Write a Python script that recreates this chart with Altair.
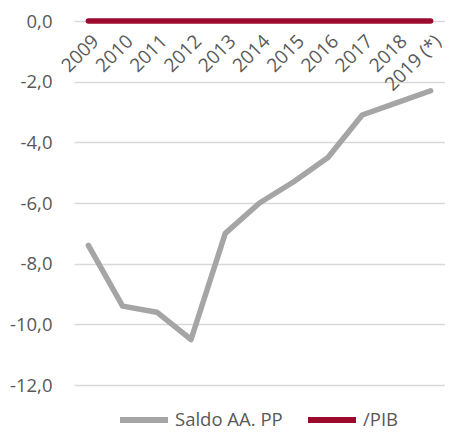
import altair as alt
import pandas as pd

years = ["2009", "2010", "2011", "2012", "2013", "2014", "2015", "2016", "2017", "2018", "2019 (*)"]
saldo = [-7.4, -9.4, -9.6, -10.5, -7.0, -6.0, -5.3, -4.5, -3.1, -2.7, -2.3]
pib = [0.0] * len(years)
series_names = ["Saldo AA. PP", "/PIB"]
series_colors = ["#A5A5A5", "#9C0B2E"]

rows = []
for y, v in zip(years, saldo):
    rows.append({"year": y, "value": v, "serie": series_names[0]})
for y, v in zip(years, pib):
    rows.append({"year": y, "value": v, "serie": series_names[1]})
df = pd.DataFrame(rows)
lab = pd.DataFrame({"year": years, "value": [0.0] * len(years)})

FONT = "Open Sans"
TXT = "#595959"
FS = 18.5

x = alt.X("year:O", sort=years, scale=alt.Scale(type="point", padding=0.42), axis=None)
yenc = alt.Y("value:Q", scale=alt.Scale(domain=[-12, 0], nice=False),
             axis=alt.Axis(values=[0, -2, -4, -6, -8, -10, -12],
                           labelExpr="replace(replace(format(datum.value, '.1f'), '.', ','), '\u2212', '-')",
                           title=None, domain=False, ticks=False, labelPadding=22,
                           labelFont=FONT, labelFontSize=FS, labelColor=TXT,
                           gridColor="#D9D9D9", gridWidth=1.5))

lines = alt.Chart(df).mark_line(strokeWidth=5.5, strokeCap="round", strokeJoin="round").encode(
    x=x,
    y=yenc,
    color=alt.Color("serie:N", sort=series_names,
                    scale=alt.Scale(domain=series_names, range=series_colors),
                    legend=alt.Legend(title=None, orient="none", direction="horizontal",
                                      legendX=43, legendY=387, padding=0, clipHeight=24,
                                      symbolType="stroke", symbolSize=2304, symbolStrokeWidth=6,
                                      labelFont=FONT, labelFontSize=FS, labelColor=TXT,
                                      columnPadding=22, labelOffset=4)),
    order=alt.Order("serie:N", sort="descending"),
)

labels = alt.Chart(lab).mark_text(angle=315, align="right", baseline="middle",
                                  font=FONT, fontSize=19, color=TXT, dx=-7, dy=17.5).encode(
    x=x,
    y=alt.Y("value:Q"),
    text="year:N",
)

chart = alt.layer(lines, labels).properties(
    width=371, height=364,
    autosize=alt.AutoSizeParams(type="none"),
    padding={"left": 66, "top": 13, "right": 0, "bottom": 44},
).configure_view(stroke=None).configure_axis(grid=True)

chart.save("out.html", embed_options={"renderer": "svg", "actions": False})
